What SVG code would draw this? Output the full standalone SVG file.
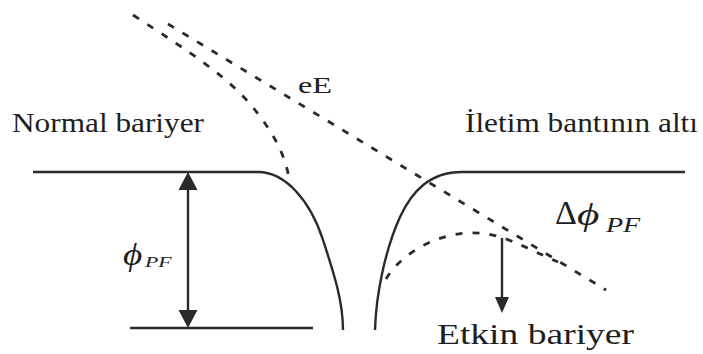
<svg xmlns="http://www.w3.org/2000/svg" width="703" height="354" viewBox="0 0 703 354">
<style>
.solid{fill:none;stroke:#2a2a2e;stroke-width:2.4;stroke-linecap:butt}
.dash{fill:none;stroke:#2a2a2e;stroke-width:2.8;stroke-dasharray:7 10}
.lbl{fill:#1e1e22}
.head{fill:#2a2a2e}
</style>
<rect width="703" height="354" fill="#ffffff"/>
<g id="connectors">
<path class="dash" d="M168,24 L606,290"/>
<path class="dash" d="M133,15 C190,52 230,78 255,110 C270,129 284,150 289,178"/>
<path class="dash" d="M386,279 C398,258 430,235 468,233 C500,231 525,248 558,262"/>
<line class="solid" x1="188" y1="188" x2="188" y2="312" stroke-width="2"/>
<polygon class="head" points="188,172 178.5,190 197.5,190"/>
<polygon class="head" points="188,328 178.5,310 197.5,310"/>
<line class="solid" x1="502" y1="238" x2="502" y2="299" stroke-width="2"/>
<polygon class="head" points="502,313 495,297 509,297"/>
</g>
<g id="normal-barrier">
<path class="solid" d="M33,172 H258 C285,172 310,200 323,240 C333,271 343,300 343,330"/>
<path class="solid" d="M130,328 H313"/>
</g>
<g id="conduction-band">
<path class="solid" d="M375,330 C376,295 385,250 400,217 C412,191 430,172 462,172 H685"/>
</g>
<g id="labels" font-family="'Liberation Serif', 'Times New Roman', serif">
<text class="lbl" x="12" y="132" font-size="28" textLength="192" lengthAdjust="spacingAndGlyphs">Normal bariyer</text>
<text class="lbl" x="465" y="132" font-size="28" textLength="233" lengthAdjust="spacingAndGlyphs">İletim bantının altı</text>
<text class="lbl" x="298" y="93" font-size="24" textLength="34" lengthAdjust="spacingAndGlyphs">eE</text>
<text class="lbl" x="437" y="344" font-size="30" textLength="197" lengthAdjust="spacingAndGlyphs">Etkin bariyer</text>
<text class="lbl" transform="translate(123,265) scale(1.2,1)" font-size="31" font-style="italic">ϕ</text>
<text class="lbl" transform="translate(145,267) scale(1.45,1)" font-size="15" font-style="italic">PF</text>
<text class="lbl" x="555" y="224" font-size="34">Δ</text>
<text class="lbl" transform="translate(577,225) scale(1.35,1)" font-size="32" font-style="italic">ϕ</text>
<text class="lbl" transform="translate(606,232) scale(1.4,1)" font-size="20" font-style="italic">PF</text>
</g>
</svg>
